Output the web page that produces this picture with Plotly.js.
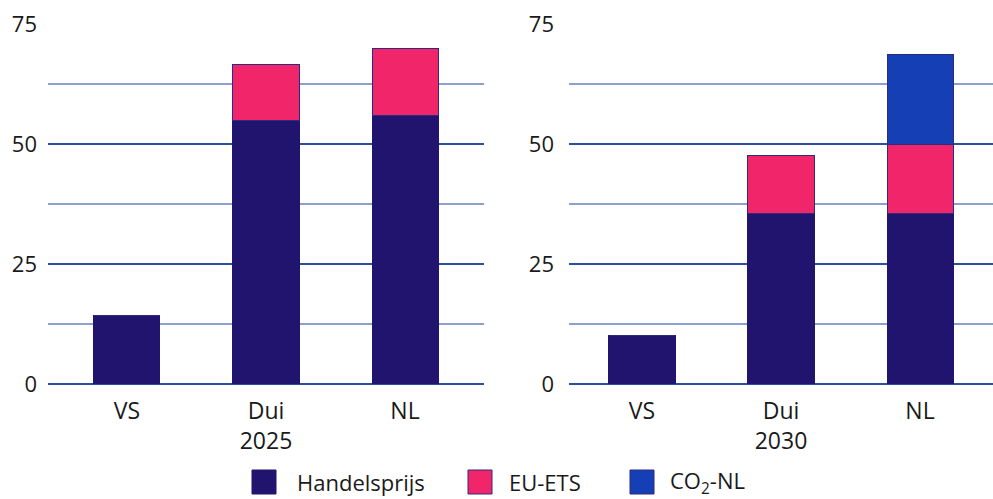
<!DOCTYPE html>
<html>
<head>
<meta charset="utf-8">
<script src="https://cdn.plot.ly/plotly-3.0.1.min.js"></script>
<style>html,body{margin:0;padding:0;background:#fff;}#chart{width:993px;height:499px;}</style>
</head>
<body>
<div id="chart"></div>
<script>
// ---- data ----
const categories = ['VS', 'Dui', 'NL'];
const years = ['2025', '2030'];
const seriesNames = ['Handelsprijs', 'EU-ETS', 'CO<sub>2</sub>-NL'];
const handels2025 = [14.3, 55.0, 56.0];
const ets2025 = [0, 11.5, 14.0];
const co2nl2025 = [0, 0, 0];
const handels2030 = [10.2, 35.6, 35.6];
const ets2030 = [0, 12.1, 14.4];
const co2nl2030 = [0, 0, 18.6];
const yTicks = [0, 25, 50, 75];

// ---- styling ----
const colors = ['#20146e', '#f0256a', '#1540b5'];
const W = 993, H = 499;
const px = v => v / W;
const py = v => (H - v) / H;
const font = {family: 'Open Sans, sans-serif', size: 22, color: '#1a1a1a'};
const xfont = {family: 'Open Sans, sans-serif', size: 23, color: '#1a1a1a'};

function tickText(year) {
  return categories.map(c => c === 'Dui' ? c + '<br>' + year : c);
}

const panels = [
  {xa: 'x', ya: 'y', vals: [handels2025, ets2025, co2nl2025]},
  {xa: 'x2', ya: 'y2', vals: [handels2030, ets2030, co2nl2030]}
];

const traces = [];
panels.forEach(p => {
  p.vals.forEach((arr, i) => {
    traces.push({
      type: 'bar',
      x: categories,
      y: arr,
      xaxis: p.xa, yaxis: p.ya,
      name: seriesNames[i],
      width: 0.475,
      marker: {color: colors[i], line: {color: i === 0 ? colors[0] : '#2e2a80', width: 1}},
      showlegend: false,
      hoverinfo: 'skip'
    });
  });
});

function yAxis(standoff, anchor) {
  return {
    anchor: anchor,
    range: [0, 75],
    domain: [py(384), py(24)],
    tickvals: yTicks,
    ticktext: yTicks.map(String),
    ticks: '',
    ticklabelstandoff: standoff,
    showline: false,
    showgrid: true,
    gridcolor: '#2d4fa0',
    gridwidth: 2,
    zeroline: true,
    zerolinecolor: '#2d4fa0',
    zerolinewidth: 2,
    minor: {tick0: 0, dtick: 12.5, showgrid: true, gridcolor: '#8da1d0', gridwidth: 1.5, ticks: ''},
    tickfont: font,
    fixedrange: true,
    automargin: false
  };
}

function xAxis(domain, range, year, anchor) {
  return {
    domain: domain,
    range: range,
    type: 'category',
    categoryorder: 'array',
    categoryarray: categories,
    tickvals: categories,
    ticktext: tickText(year),
    ticks: '',
    ticklabelstandoff: 11,
    showgrid: false,
    zeroline: false,
    showline: false,
    tickfont: xfont,
    anchor: anchor,
    fixedrange: true,
    automargin: false
  };
}

const shapes = [];
const annotations = [];
const legendSq = [252, 468, 630];
const legendTx = [295, 507, 668];
seriesNames.forEach((n, i) => {
  shapes.push({
    type: 'rect', xref: 'paper', yref: 'paper',
    x0: px(legendSq[i]), x1: px(legendSq[i] + 24),
    y0: py(494), y1: py(470),
    fillcolor: colors[i],
    line: {color: i === 0 ? colors[0] : '#2e2a80', width: 1}
  });
  annotations.push({
    xref: 'paper', yref: 'paper',
    x: px(legendTx[i]), y: py(482),
    xanchor: 'left', yanchor: 'middle',
    text: n, showarrow: false, font: font
  });
});

const layout = {
  width: W, height: H,
  margin: {l: 0, r: 0, t: 0, b: 0},
  paper_bgcolor: '#ffffff',
  plot_bgcolor: 'rgba(0,0,0,0)',
  barmode: 'stack',
  showlegend: false,
  font: font,
  xaxis: xAxis([px(48), px(484)], [-0.568, 2.568], years[0], 'y'),
  yaxis: yAxis(10, 'x'),
  xaxis2: xAxis([px(569), 1], [-0.525, 2.525], years[1], 'y2'),
  yaxis2: yAxis(14, 'x2'),
  shapes: shapes,
  annotations: annotations
};

Plotly.newPlot('chart', traces, layout, {displayModeBar: false, staticPlot: true});
</script>
</body>
</html>
